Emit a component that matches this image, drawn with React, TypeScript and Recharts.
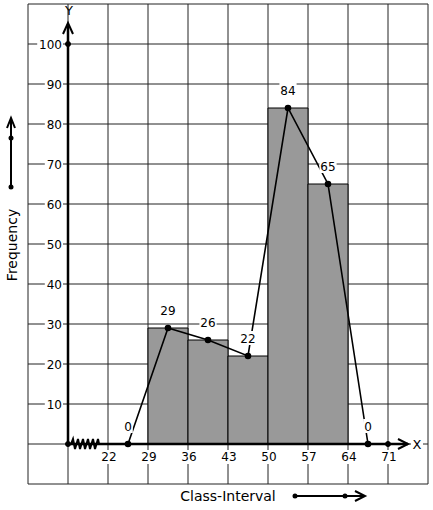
import { ComposedChart, Line, XAxis, YAxis, CartesianGrid, ReferenceArea, ReferenceLine, ReferenceDot, LabelList } from 'recharts';

// class intervals and frequencies
const lowerLimits = [29, 36, 43, 50, 57];
const upperLimits = [36, 43, 50, 57, 64];
const frequencies = [29, 26, 22, 84, 65];

// frequency polygon (class marks incl. empty classes at both ends)
const classMarks = [25.5, 32.5, 39.5, 46.5, 53.5, 60.5, 67.5];
const polygonValues = [0, 29, 26, 22, 84, 65, 0];

// axis ticks
const xTicks = [8, 15, 22, 29, 36, 43, 50, 57, 64, 71, 78];
const xTickLabels = [22, 29, 36, 43, 50, 57, 64, 71];
const yTicks = [-10, 0, 10, 20, 30, 40, 50, 60, 70, 80, 90, 100, 110];
const yTickLabels = [10, 20, 30, 40, 50, 60, 70, 80, 90, 100];

// origin is shown at x = 15 (axis is broken between origin and 22)
const axisDots = [
  { x: 15, y: 0 },
  { x: 71, y: 0 },
  { x: 15, y: 100 },
];

const W = 433;
const H = 510;
// axes take 1px each, so the plot spans x 28..428, y 4..484
const MARGIN = { top: 4, right: 5, bottom: 25, left: 27 };
const PLOT_TOP = 4;
const PLOT_H = 480;
const Y_MIN = -10;
const Y_MAX = 110;
const yPix = (v: number) => PLOT_TOP + ((Y_MAX - v) / (Y_MAX - Y_MIN)) * PLOT_H;

const FONT = '"DejaVu Sans", sans-serif';

const polygonData = classMarks.map((x, i) => ({ x, f: polygonValues[i] }));

const XTick = (props: any) => {
  const { x, payload } = props;
  if (!xTickLabels.includes(payload.value)) return <g />;
  const ty = yPix(0) + 17;
  return (
    <g>
      <rect x={x - 8} y={ty - 11} width={17} height={14} fill="#fff" />
      <text x={x + 1} y={ty} textAnchor="middle" fontSize={12} fontFamily={FONT} fill="#000">
        {payload.value}
      </text>
    </g>
  );
};

const YTick = (props: any) => {
  const { y, payload } = props;
  if (!yTickLabels.includes(payload.value)) return <g />;
  const right = 62;
  const w = String(payload.value).length * 7.6 + 2;
  return (
    <g>
      <rect x={right - w} y={y - 7} width={w + 1} height={14} fill="#fff" />
      <text x={right} y={y + 4.5} textAnchor="end" fontSize={12} fontFamily={FONT} fill="#000">
        {payload.value}
      </text>
    </g>
  );
};

const PointLabel = (props: any) => {
  const { x, y, value } = props;
  const w = String(value).length * 7.6 + 2;
  return (
    <g>
      <rect x={x - w / 2} y={y - 25} width={w} height={14} fill="#fff" />
      <text x={x} y={y - 13.5} textAnchor="middle" fontSize={12} fontFamily={FONT} fill="#000">
        {value}
      </text>
    </g>
  );
};

export default function App() {
  const y0 = yPix(0);
  return (
    <div style={{ position: 'absolute', left: 0, top: 0, width: W, height: H, background: '#fff' }}>
      <ComposedChart width={W} height={H} data={polygonData} margin={MARGIN}>
        <CartesianGrid stroke="#222" strokeWidth={1} />
        <XAxis
          type="number"
          dataKey="x"
          domain={[8, 78]}
          ticks={xTicks}
          interval={0}
          height={1}
          axisLine={false}
          tickLine={false}
          tick={XTick}
          allowDataOverflow
        />
        <YAxis
          type="number"
          domain={[Y_MIN, Y_MAX]}
          ticks={yTicks}
          interval={0}
          width={1}
          axisLine={false}
          tickLine={false}
          tick={YTick}
          allowDataOverflow
        />
        {lowerLimits.map((lo, i) => (
          <ReferenceArea
            key={lo}
            x1={lo}
            x2={upperLimits[i]}
            y1={0}
            y2={frequencies[i]}
            fill="#999999"
            fillOpacity={1}
            stroke="#000"
            strokeWidth={1}
          />
        ))}
        <ReferenceLine segment={[{ x: 15, y: 0 }, { x: 15, y: 104.5 }]} stroke="#000" strokeWidth={2.5} />
        <ReferenceLine segment={[{ x: 15, y: 0 }, { x: 74.5, y: 0 }]} stroke="#000" strokeWidth={2.5} />
        <Line
          type="linear"
          dataKey="f"
          stroke="#000"
          strokeWidth={1.6}
          dot={{ r: 2.5, fill: '#000', stroke: '#000' }}
          isAnimationActive={false}
        >
          <LabelList dataKey="f" content={PointLabel} />
        </Line>
        {axisDots.map((d) => (
          <ReferenceDot key={`${d.x}-${d.y}`} x={d.x} y={d.y} r={2.5} fill="#000" stroke="#000" />
        ))}
      </ComposedChart>
      <svg
        width={W}
        height={H}
        style={{ position: 'absolute', left: 0, top: 0, pointerEvents: 'none' }}
      >
        {/* Y axis arrow + name */}
        <polyline points="63,34 68,23 73,34" fill="none" stroke="#000" strokeWidth={2} />
        <text x={69} y={15} textAnchor="middle" fontSize={13} fontFamily={FONT}>Y</text>
        {/* X axis arrow + name */}
        <polyline points={`${398},${y0 - 5} ${408},${y0} ${398},${y0 + 5}`} fill="none" stroke="#000" strokeWidth={2} />
        <rect x={411} y={y0 - 7} width={12} height={14} fill="#fff" />
        <text x={417} y={y0 + 4.5} textAnchor="middle" fontSize={13} fontFamily={FONT}>X</text>
        {/* broken axis zigzag */}
        <polyline
          points={`71,${y0} 73,${y0 - 5} 75,${y0 + 5} 78,${y0 - 5} 80,${y0 + 5} 83,${y0 - 5} 85,${y0 + 5} 88,${y0 - 5} 90,${y0 + 5} 93,${y0 - 5} 95,${y0 + 5} 98,${y0 - 5} 99,${y0}`}
          fill="none"
          stroke="#000"
          strokeWidth={2}
        />
        {/* Frequency label with arrow */}
        <line x1={11} y1={187} x2={11} y2={119} stroke="#000" strokeWidth={2} />
        <polyline points="7,128 11,118 15,128" fill="none" stroke="#000" strokeWidth={2} />
        <circle cx={11} cy={138} r={2.5} fill="#000" />
        <circle cx={11} cy={187} r={2.5} fill="#000" />
        <text
          x={17}
          y={245}
          transform="rotate(-90 17 245)"
          textAnchor="middle"
          fontSize={14}
          fontFamily={FONT}
        >
          Frequency
        </text>
        {/* Class-Interval label with arrow */}
        <text x={228} y={501} textAnchor="middle" fontSize={14} fontFamily={FONT}>Class-Interval</text>
        <line x1={295} y1={496} x2={363} y2={496} stroke="#000" strokeWidth={2} />
        <polyline points="355,491 365,496 355,501" fill="none" stroke="#000" strokeWidth={2} />
        <circle cx={295} cy={496} r={2.5} fill="#000" />
        <circle cx={345} cy={496} r={2.5} fill="#000" />
      </svg>
    </div>
  );
}
